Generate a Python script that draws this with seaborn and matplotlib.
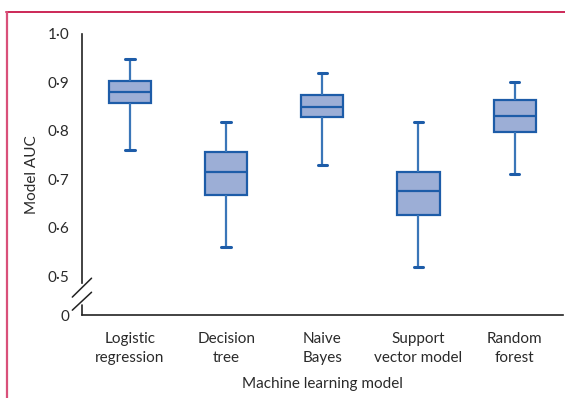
import matplotlib
matplotlib.use('Agg')
import matplotlib.pyplot as plt
import matplotlib.transforms as mtransforms
import pandas as pd
import seaborn as sns

# Box plot summary values (min, Q1, median, Q3, max)
models = ['Logistic\nregression', 'Decision\ntree', 'Naive\nBayes',
          'Support\nvector model', 'Random\nforest']
lower = [0.760, 0.560, 0.730, 0.520, 0.711]
q1 = [0.857, 0.667, 0.828, 0.627, 0.797]
median = [0.881, 0.715, 0.850, 0.676, 0.830]
q3 = [0.904, 0.757, 0.874, 0.716, 0.864]
upper = [0.948, 0.818, 0.920, 0.818, 0.900]

ytick_vals = [0.42, 0.5, 0.6, 0.7, 0.8, 0.9, 1.0]
ytick_labels = ['0', '0·5', '0·6', '0·7', '0·8', '0·9', '1·0']

# five points per model reproduce the quartiles exactly
rows = []
for i, m in enumerate(models):
    for v in (lower[i], q1[i], median[i], q3[i], upper[i]):
        rows.append({'model': m, 'auc': v})
df = pd.DataFrame(rows)

sns.set_style('white')
plt.rcParams['font.family'] = ['Lato', 'DejaVu Sans']

edge = '#1d5ca8'
fill = '#9caed6'
ink = '#2a2a2a'

fig = plt.figure(figsize=(5.65, 3.98), dpi=100)
ax = fig.add_axes([0.145, 0.2085, 0.851, 0.7061])

sns.boxplot(data=df, x='model', y='auc', order=models, whis=(0, 100),
            width=0.44, color=fill, linewidth=1.6, linecolor=edge,
            showfliers=False, ax=ax,
            boxprops=dict(facecolor=fill, edgecolor=edge),
            whiskerprops=dict(color='#3a76b8'),
            capprops=dict(color=edge, linewidth=2.2),
            medianprops=dict(color=edge))

# narrow the whisker caps
for line in ax.lines:
    xd = line.get_xdata()
    yd = line.get_ydata()
    if len(xd) == 2 and yd[0] == yd[1] and abs(xd[1] - xd[0]) > 0.01:
        c = (xd[0] + xd[1]) / 2
        if any(abs(yd[0] - v) < 1e-9 for v in lower + upper):
            line.set_xdata([c - 0.05, c + 0.05])

ax.set_xlim(-0.5, 4.5)
ax.set_ylim(0.42, 1.0)
ax.set_yticks(ytick_vals)
ax.set_yticklabels(ytick_labels)
ax.set_xticks([i - 0.5 for i in range(6)])
ax.set_xticklabels([])
ax.set_xticks(range(5), minor=True)
ax.set_xticklabels(models, minor=True, linespacing=1.45)
ax.tick_params(axis='x', which='minor', length=0, pad=12, labelsize=11, colors=ink)
ax.tick_params(axis='x', which='major', direction='out', length=6, width=1, color='#222222')
ax.tick_params(axis='y', direction='out', length=6, width=1, color='#222222',
               labelsize=11, labelcolor=ink, pad=3)
ax.set_xlabel('Machine learning model', fontsize=11, color=ink, labelpad=9)
ax.set_ylabel('Model AUC', fontsize=11, color=ink, labelpad=6)

for s in ['top', 'right']:
    ax.spines[s].set_visible(False)
for s in ['left', 'bottom']:
    ax.spines[s].set_color('#222222')
    ax.spines[s].set_linewidth(1.2)
ax.spines['left'].set_bounds(0.486, 1.0)

# broken axis marks
tr = mtransforms.blended_transform_factory(ax.transAxes, ax.transData)
ax.plot([0, 0], [0.42, 0.441], color='#222222', lw=1.2, transform=tr, clip_on=False)
for y0, y1 in ((0.457, 0.496), (0.430, 0.467)):
    ax.plot([-0.02, 0.02], [y0, y1], color='#222222', lw=1.1,
            transform=tr, clip_on=False)

# page frame lines
fig.add_artist(plt.Line2D([0.0106, 1.0], [0.970, 0.970], color='#c8174a', lw=1.3))
fig.add_artist(plt.Line2D([0.0124, 0.0124], [0.0, 0.970], color='#d9507a', lw=1.6))

fig.savefig('out.png', dpi=100)
